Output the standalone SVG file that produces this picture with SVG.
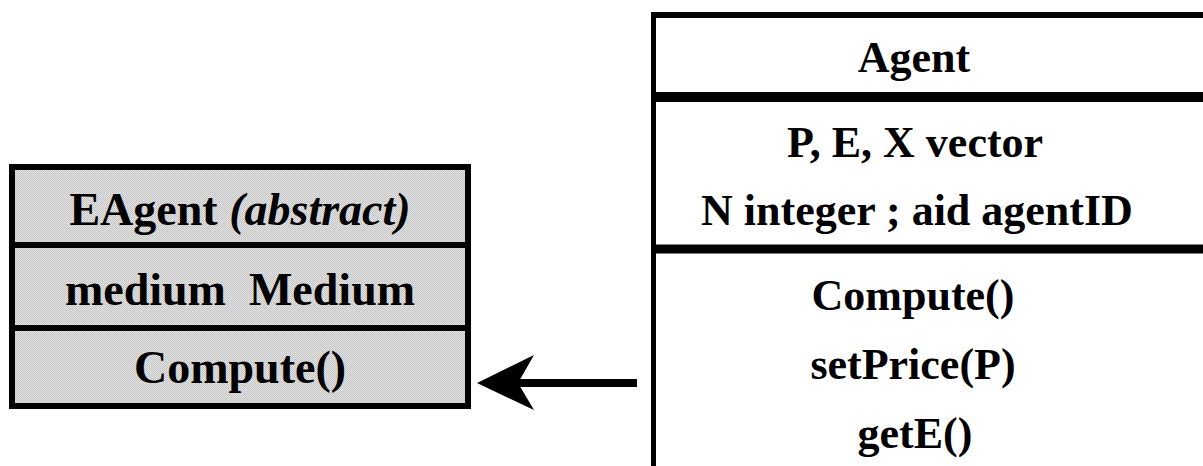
<svg xmlns="http://www.w3.org/2000/svg" width="1203" height="466" viewBox="0 0 1203 466">
<style>
.t{font-family:"Liberation Serif","Times New Roman",serif;font-weight:bold;fill:#000;text-anchor:middle}
.l{font-size:46px}
.r{font-size:44px}
.ln{stroke:#000}
.box{fill:url(#hatch);stroke:#000;stroke-width:6}
</style>
<defs>
<pattern id="hatch" width="2" height="2" patternUnits="userSpaceOnUse">
<rect width="2" height="2" fill="#e4e4e4"/>
<rect width="1" height="1" fill="#c4c4c4"/>
<rect x="1" y="1" width="1" height="1" fill="#c4c4c4"/>
</pattern>
</defs>
<rect width="1203" height="466" fill="#fff"/>
<g id="EAgent">
<rect x="12" y="167" width="456" height="239" class="box"/>
<line x1="12" y1="245" x2="468" y2="245" class="ln" stroke-width="6"/>
<line x1="12" y1="328" x2="468" y2="328" class="ln" stroke-width="6"/>
<text class="t l" x="240" y="225">EAgent <tspan font-style="italic">(abstract)</tspan></text>
<text class="t l" x="240" y="305" xml:space="preserve">medium  Medium</text>
<text class="t l" x="240" y="383">Compute()</text>
</g>
<g id="Agent">
<line x1="651" y1="15" x2="1203" y2="15" class="ln" stroke-width="6"/>
<line x1="653.5" y1="12" x2="653.5" y2="466" class="ln" stroke-width="5"/>
<line x1="651" y1="97" x2="1203" y2="97" class="ln" stroke-width="10"/>
<line x1="651" y1="249" x2="1203" y2="249" class="ln" stroke-width="9"/>
<text class="t r" x="914" y="72">Agent</text>
<text class="t r" x="915" y="157">P, E, X vector</text>
<text class="t r" x="917" y="225">N integer ; aid agentID</text>
<text class="t r" x="913" y="310">Compute()</text>
<text class="t r" x="913" y="379">setPrice(P)</text>
<text class="t r" x="915" y="448">getE()</text>
</g>
<g id="connectors">
<line x1="516" y1="383" x2="637" y2="383" stroke="#000" stroke-width="8"/>
<polygon points="477,383 534,355 518,383 534,410" fill="#000"/>
</g>
</svg>
